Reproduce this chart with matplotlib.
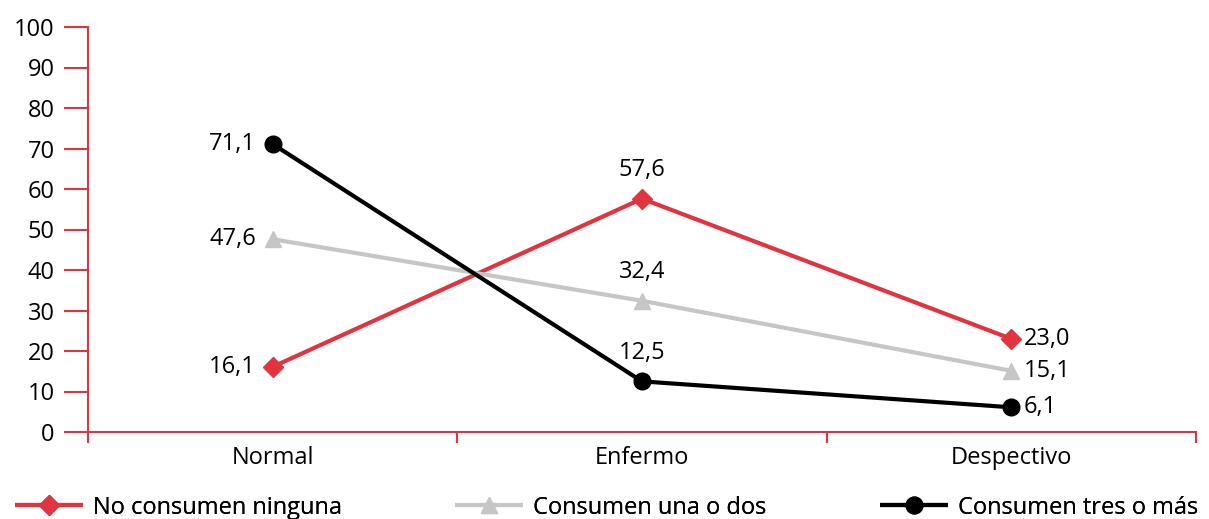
import matplotlib
matplotlib.use("Agg")
import matplotlib.pyplot as plt

categories = ["Normal", "Enfermo", "Despectivo"]
series_names = ["No consumen ninguna", "Consumen una o dos", "Consumen tres o más"]
ninguna = [16.1, 57.6, 23.0]
una_o_dos = [47.6, 32.4, 15.1]
tres_o_mas = [71.1, 12.5, 6.1]
y_ticks = [0, 10, 20, 30, 40, 50, 60, 70, 80, 90, 100]

RED = "#E2343F"
GRAY = "#C6C6C6"
BLACK = "#000000"
FS = 17

plt.rcParams["font.family"] = ["Open Sans", "DejaVu Sans"]

fig = plt.figure(figsize=(12.09, 5.19), dpi=100)
ax = fig.add_axes([88 / 1209, 87 / 519, (1196 - 88) / 1209, (432 - 27) / 519])

x = list(range(len(categories)))
styles = [
    (ninguna, RED, "D", 10.5),
    (una_o_dos, GRAY, "^", 12),
    (tres_o_mas, BLACK, "o", 12),
]
handles = []
for (vals, color, marker, ms), name in zip(styles, series_names):
    (h,) = ax.plot(x, vals, color=color, lw=3, marker=marker, ms=ms,
                   markeredgecolor=color, markerfacecolor=color, label=name,
                   solid_capstyle="butt")
    handles.append(h)

# value labels: left of first point, above the middle one, right of the last
for vals in (ninguna, una_o_dos, tres_o_mas):
    for i, v in enumerate(vals):
        txt = f"{v:.1f}".replace(".", ",")
        if i == 0:
            ax.annotate(txt, (i, v), xytext=(-12, 0), textcoords="offset points",
                        ha="right", va="center", fontsize=FS)
        elif i == 1:
            ax.annotate(txt, (i, v), xytext=(0, 12), textcoords="offset points",
                        ha="center", va="bottom", fontsize=FS)
        else:
            ax.annotate(txt, (i, v), xytext=(9, 0), textcoords="offset points",
                        ha="left", va="center", fontsize=FS)

ax.set_xlim(-0.5, len(categories) - 0.5)
ax.set_ylim(0, 100)
ax.set_yticks(y_ticks)
ax.set_yticklabels([str(t) for t in y_ticks], fontsize=FS)

# category boundaries carry the x tick marks, labels sit at the centres
ax.set_xticks([i - 0.5 for i in range(len(categories) + 1)])
ax.set_xticklabels([])
ax.set_xticks(x, minor=True)
ax.set_xticklabels(categories, minor=True, fontsize=FS)
ax.tick_params(axis="x", which="minor", length=0, pad=10)
ax.tick_params(axis="x", which="major", length=8, width=1.5, color=RED, direction="out")
ax.tick_params(axis="y", length=17, width=1.5, color=RED, direction="out", pad=7)

for side in ("top", "right"):
    ax.spines[side].set_visible(False)
for side in ("left", "bottom"):
    ax.spines[side].set_color(RED)
    ax.spines[side].set_linewidth(1.5)

# one legend entry per series, spread along the bottom edge
legend_x = [15 / 1209, 455 / 1209, 880 / 1209]
for h, lx in zip(handles, legend_x):
    leg = fig.legend(handles=[h], loc="center left", bbox_to_anchor=(lx, 0.022),
                     frameon=False, fontsize=FS, handlelength=2.9,
                     handletextpad=0.4, borderpad=0, borderaxespad=0)
    fig.add_artist(leg)

fig.savefig("out.png", dpi=100)
